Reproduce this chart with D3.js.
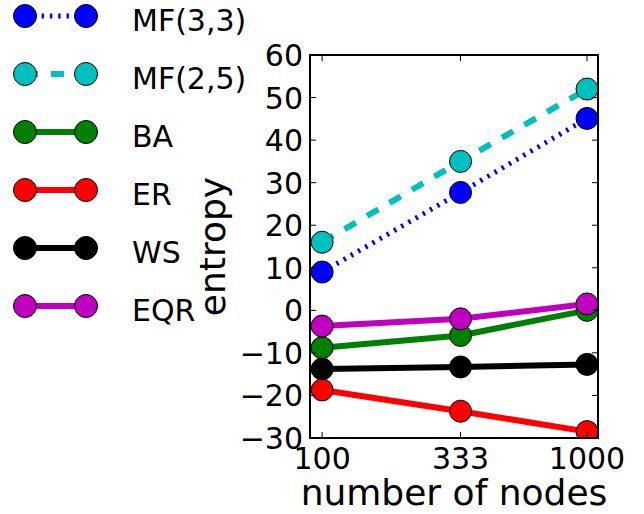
<!DOCTYPE html>
<html><head><meta charset="utf-8">
<script src="https://cdn.jsdelivr.net/npm/d3@7/dist/d3.min.js"></script>
<style>body{margin:0;background:#fff}svg{display:block}text{font-family:"DejaVu Sans",sans-serif;fill:#000}</style>
</head><body><svg id="c" width="644" height="514"></svg>
<script>
const nodes = [100, 333, 1000];
const seriesNames = ["MF(3,3)", "MF(2,5)", "BA", "ER", "WS", "EQR"];
const mf33 = [9, 27.7, 45.1];
const mf25 = [16, 35, 52];
const ba = [-8.8, -5.9, 0];
const er = [-18.7, -23.7, -28.5];
const ws = [-13.8, -13.3, -12.7];
const eqr = [-3.7, -2.0, 1.5];
const yTicks = [-30, -20, -10, 0, 10, 20, 30, 40, 50, 60];
const xTickLabels = ["100", "333", "1000"];

const series = [
  {name: seriesNames[0], values: mf33, color: "#0000ff", dash: "2.4,5.9", width: 5},
  {name: seriesNames[1], values: mf25, color: "#00bfbf", dash: "13,13", width: 6},
  {name: seriesNames[2], values: ba, color: "#008000", dash: null, width: 6},
  {name: seriesNames[3], values: er, color: "#ff0000", dash: null, width: 6},
  {name: seriesNames[4], values: ws, color: "#000000", dash: null, width: 6},
  {name: seriesNames[5], values: eqr, color: "#bf00bf", dash: null, width: 6}
];

const L = 310, R = 598, T = 55, B = 438, MR = 11;
const x = d3.scaleLog().domain([90, 1100]).range([L, R]);
const y = d3.scaleLinear().domain([-30, 60]).range([B, T]);
const svg = d3.select("#c");

svg.append("clipPath").attr("id", "clip").append("rect")
  .attr("x", L).attr("y", T).attr("width", R - L).attr("height", B - T);
const plot = svg.append("g").attr("clip-path", "url(#clip)");
const line = d3.line().x((d, i) => x(nodes[i])).y(d => y(d));

series.forEach(s => {
  plot.append("path").attr("d", line(s.values)).attr("fill", "none")
    .attr("stroke", s.color).attr("stroke-width", s.width)
    .attr("stroke-dasharray", s.dash).attr("stroke-linecap", "butt");
  plot.selectAll(null).data(s.values).enter().append("circle")
    .attr("cx", (d, i) => x(nodes[i])).attr("cy", d => y(d)).attr("r", MR)
    .attr("fill", s.color).attr("stroke", "#000").attr("stroke-width", 1);
});

// ticks (inside, all four sides)
const tk = svg.append("g").attr("stroke", "#000").attr("stroke-width", 1);
yTicks.forEach(v => {
  tk.append("line").attr("x1", L).attr("x2", L + 6).attr("y1", y(v)).attr("y2", y(v));
  tk.append("line").attr("x1", R).attr("x2", R - 6).attr("y1", y(v)).attr("y2", y(v));
});
nodes.forEach(v => {
  tk.append("line").attr("x1", x(v)).attr("x2", x(v)).attr("y1", B).attr("y2", B - 6);
  tk.append("line").attr("x1", x(v)).attr("x2", x(v)).attr("y1", T).attr("y2", T + 6);
});
svg.append("rect").attr("x", L).attr("y", T).attr("width", R - L).attr("height", B - T)
  .attr("fill", "none").attr("stroke", "#000").attr("stroke-width", 2);

// tick labels
svg.append("g").selectAll("text").data(yTicks).enter().append("text")
  .attr("x", L - 7).attr("y", d => y(d) + 11).attr("text-anchor", "end")
  .attr("font-size", 30).text(d => d < 0 ? "\u2212" + Math.abs(d) : String(d));
svg.append("g").selectAll("text").data(nodes).enter().append("text")
  .attr("x", d => x(d)).attr("y", 469).attr("text-anchor", "middle")
  .attr("font-size", 30).text((d, i) => xTickLabels[i]);

// axis labels
svg.append("text").attr("x", (L + R) / 2).attr("y", 505).attr("text-anchor", "middle")
  .attr("font-size", 36).text("number of nodes");
svg.append("text").attr("transform", `translate(225,${(T + B) / 2}) rotate(-90)`)
  .attr("text-anchor", "middle").attr("font-size", 36).text("entropy");

// legend
const lg = svg.append("g");
series.forEach((s, i) => {
  const ry = 16 + i * 58;
  lg.append("line").attr("x1", 25).attr("x2", 86).attr("y1", ry).attr("y2", ry)
    .attr("stroke", s.color).attr("stroke-width", s.width)
    .attr("stroke-dasharray", s.dash);
  [25, 86].forEach(cx => lg.append("circle").attr("cx", cx).attr("cy", ry).attr("r", 11.5)
    .attr("fill", s.color).attr("stroke", "#000").attr("stroke-width", 1));
  lg.append("text").attr("x", 132).attr("y", ry + 15).attr("font-size", 30).text(s.name);
});
</script></body></html>
